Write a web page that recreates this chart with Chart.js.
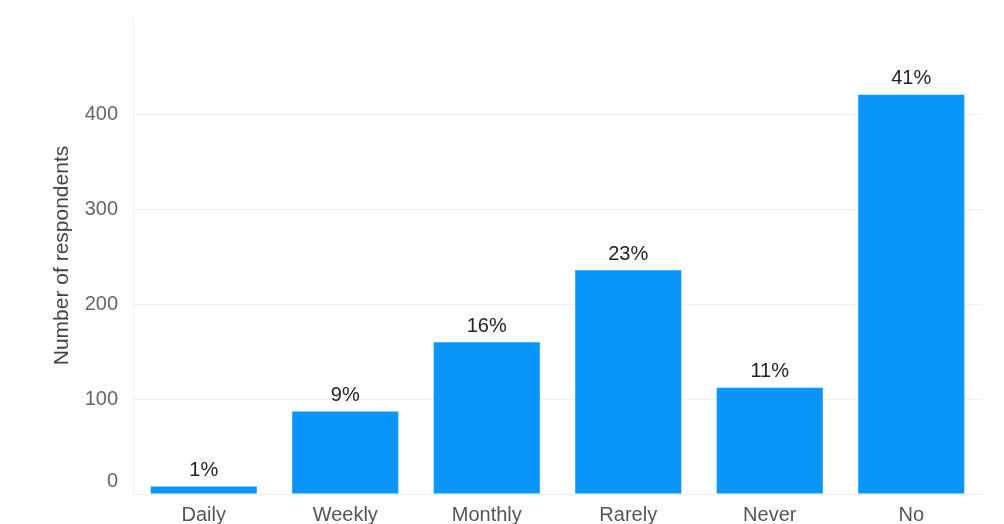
<!DOCTYPE html>
<html>
<head>
<meta charset="utf-8">
<script src="https://cdn.jsdelivr.net/npm/chart.js@4/dist/chart.umd.min.js"></script>
<style>
html,body{margin:0;padding:0;background:#fff;}
#wrap{width:1004px;height:524px;position:relative;}
</style>
</head>
<body>
<div id="wrap"><canvas id="c" width="1004" height="524"></canvas></div>
<script>
const categories = ["Daily", "Weekly", "Monthly", "Rarely", "Never", "No"];
const respondents = [8, 87, 160, 236, 112, 421];
const percentLabels = ["1%", "9%", "16%", "23%", "11%", "41%"];
const yTickValues = [0, 100, 200, 300, 400];

const FONT = '"Liberation Sans", Arial, sans-serif';

const barLabels = {
  id: 'barLabels',
  afterDatasetsDraw(chart) {
    const ctx = chart.ctx;
    const meta = chart.getDatasetMeta(0);
    ctx.save();
    ctx.font = '20px ' + FONT;
    ctx.fillStyle = '#222';
    ctx.textAlign = 'center';
    ctx.textBaseline = 'bottom';
    meta.data.forEach((bar, i) => {
      ctx.fillText(percentLabels[i], bar.x, bar.y - 6);
    });
    ctx.restore();
  }
};

// y tick labels drawn from the y scale; the "0" label sits just above the baseline as in the source
const yLabels = {
  id: 'yLabels',
  afterDraw(chart) {
    const ctx = chart.ctx;
    const s = chart.scales.y;
    ctx.save();
    ctx.font = '20px ' + FONT;
    ctx.fillStyle = '#666';
    ctx.textAlign = 'right';
    ctx.textBaseline = 'middle';
    yTickValues.forEach(v => {
      let y = s.getPixelForValue(v);
      if (v === 0) y = Math.min(y, chart.chartArea.bottom - 13);
      ctx.fillText(String(v), s.right - 15, y);
    });
    ctx.restore();
  }
};

new Chart(document.getElementById('c'), {
  type: 'bar',
  data: {
    labels: categories,
    datasets: [{
      data: respondents,
      backgroundColor: '#0a95fb',
      borderWidth: 0,
      barPercentage: 0.75,
      categoryPercentage: 1.0
    }]
  },
  options: {
    responsive: false,
    animation: false,
    layout: { padding: { left: 50, right: 22, top: 17, bottom: 0 } },
    plugins: { legend: { display: false }, tooltip: { enabled: false } },
    scales: {
      x: {
        grid: { display: false, drawTicks: false },
        border: { display: false },
        ticks: { color: '#555', font: { family: FONT, size: 20 }, padding: 9 },
        afterFit(s) { s.height = 30; }
      },
      y: {
        min: 0,
        max: 503,
        afterBuildTicks(s) { s.ticks = yTickValues.map(v => ({ value: v })); },
        grid: { color: '#efefef', drawTicks: false, lineWidth: 1 },
        border: { display: true, color: '#f3f3f3' },
        ticks: { display: false },
        title: { display: true, text: 'Number of respondents', color: '#444', font: { family: FONT, size: 21 }, padding: { top: 0, bottom: 4 } },
        afterFit(s) { s.width = 83; }
      }
    }
  },
  plugins: [barLabels, yLabels]
});
</script>
</body>
</html>
